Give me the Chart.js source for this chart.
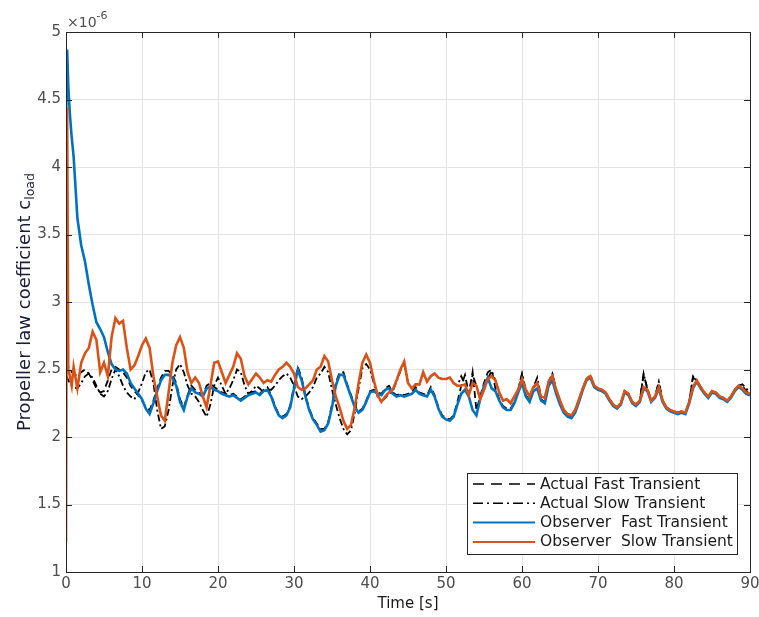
<!DOCTYPE html>
<html>
<head>
<meta charset="utf-8">
<script src="https://cdn.jsdelivr.net/npm/chart.js@4.4.1/dist/chart.umd.min.js"></script>
<style>
  html, body { margin: 0; padding: 0; background: #fff; }
  #wrap { width: 759px; height: 617px; }
</style>
</head>
<body>
<div id="wrap"><canvas id="chart" width="759" height="617"></canvas></div>
<script>
// Sample times [s] (denser at the start where the observers jump)
const time = [
  0, 0.15, 0.3, 0.5, 0.75, 1,
  1.5, 2, 2.5, 3, 3.5, 4, 4.5, 5, 5.5, 6, 6.5, 7, 7.5, 8, 8.5, 9, 9.5, 10,
  10.5, 11, 11.5, 12, 12.5, 13, 13.5, 14, 14.5, 15, 15.5, 16, 16.5, 17, 17.5, 18, 18.5, 19, 19.5, 20,
  20.5, 21, 21.5, 22, 22.5, 23, 23.5, 24, 24.5, 25, 25.5, 26, 26.5, 27, 27.5, 28, 28.5, 29, 29.5, 30,
  30.5, 31, 31.5, 32, 32.5, 33, 33.5, 34, 34.5, 35, 35.5, 36, 36.5, 37, 37.5, 38, 38.5, 39, 39.5, 40,
  40.5, 41, 41.5, 42, 42.5, 43, 43.5, 44, 44.5, 45, 45.5, 46, 46.5, 47, 47.5, 48, 48.5, 49, 49.5, 50,
  50.5, 51, 51.5, 52, 52.5, 53, 53.5, 54, 54.5, 55, 55.5, 56, 56.5, 57, 57.5, 58, 58.5, 59, 59.5, 60,
  60.5, 61, 61.5, 62, 62.5, 63, 63.5, 64, 64.5, 65, 65.5, 66, 66.5, 67, 67.5, 68, 68.5, 69, 69.5, 70,
  70.5, 71, 71.5, 72, 72.5, 73, 73.5, 74, 74.5, 75, 75.5, 76, 76.5, 77, 77.5, 78, 78.5, 79, 79.5, 80,
  80.5, 81, 81.5, 82, 82.5, 83, 83.5, 84, 84.5, 85, 85.5, 86, 86.5, 87, 87.5, 88, 88.5, 89, 89.5, 90
];

// Values in units of 1e-6
const actualFast = [
  2.48, 2.5, 2.52, 2.5, 2.48, 2.47,
  2.45, 2.48, 2.5, 2.47, 2.42, 2.36, 2.33, 2.34, 2.42, 2.5, 2.52, 2.5, 2.48, 2.44, 2.38, 2.34, 2.31, 2.27,
  2.22, 2.2, 2.27, 2.36, 2.44, 2.49, 2.49, 2.46, 2.4, 2.28, 2.22, 2.31, 2.38, 2.35, 2.33, 2.31, 2.38, 2.4, 2.37, 2.35,
  2.33, 2.32, 2.31, 2.32, 2.3, 2.28, 2.3, 2.32, 2.33, 2.34, 2.32, 2.35, 2.37, 2.31, 2.23, 2.17, 2.15, 2.17, 2.23, 2.38,
  2.52, 2.44, 2.31, 2.21, 2.14, 2.1, 2.06, 2.06, 2.11, 2.24, 2.4, 2.48, 2.48, 2.39, 2.31, 2.23, 2.19, 2.21, 2.27, 2.34,
  2.35, 2.33, 2.32, 2.36, 2.38, 2.33, 2.31, 2.32, 2.31, 2.32, 2.33, 2.37, 2.33, 2.32, 2.31, 2.37, 2.31, 2.22, 2.16, 2.14,
  2.13, 2.16, 2.26, 2.38, 2.46, 2.32, 2.48, 2.2, 2.3, 2.4, 2.48, 2.5, 2.36, 2.28, 2.23, 2.21, 2.21, 2.26, 2.35, 2.46,
  2.31, 2.27, 2.36, 2.4, 2.28, 2.26, 2.4, 2.46, 2.33, 2.25, 2.19, 2.16, 2.15, 2.19, 2.27, 2.36, 2.43, 2.45, 2.38, 2.36,
  2.35, 2.33, 2.28, 2.24, 2.22, 2.25, 2.34, 2.32, 2.26, 2.24, 2.27, 2.46, 2.36, 2.27, 2.3, 2.4, 2.27, 2.22, 2.2, 2.19,
  2.18, 2.19, 2.18, 2.26, 2.44, 2.42, 2.37, 2.33, 2.3, 2.34, 2.33, 2.3, 2.29, 2.27, 2.3, 2.35, 2.38, 2.38, 2.34, 2.32
];

const actualSlow = [
  2.45, 2.44, 2.42, 2.4, 2.38, 2.37,
  2.36, 2.4, 2.45, 2.47, 2.44, 2.38, 2.32, 2.3, 2.34, 2.43, 2.5, 2.45, 2.38, 2.33, 2.3, 2.28, 2.33, 2.4,
  2.48, 2.5, 2.4, 2.2, 2.06, 2.08, 2.2, 2.38, 2.5, 2.54, 2.48, 2.38, 2.32, 2.3, 2.26, 2.2, 2.15, 2.24, 2.38, 2.44,
  2.38, 2.32, 2.36, 2.42, 2.5, 2.48, 2.38, 2.32, 2.34, 2.38, 2.36, 2.33, 2.35, 2.35, 2.38, 2.42, 2.45, 2.47, 2.44, 2.38,
  2.3, 2.28, 2.3, 2.33, 2.37, 2.44, 2.47, 2.52, 2.48, 2.35, 2.24, 2.14, 2.06, 2.02, 2.05, 2.18, 2.36, 2.51, 2.54, 2.5,
  2.4, 2.3, 2.26, 2.29, 2.32, 2.34, 2.41, 2.49, 2.55, 2.4, 2.36, 2.39, 2.39, 2.47, 2.41, 2.45, 2.47, 2.44, 2.43, 2.43,
  2.44, 2.4, 2.38, 2.45, 2.39, 2.31, 2.46, 2.38, 2.28, 2.35, 2.43, 2.49, 2.42, 2.33, 2.27, 2.28, 2.25, 2.3, 2.35, 2.47,
  2.35, 2.3, 2.37, 2.44, 2.3, 2.29, 2.41, 2.47, 2.35, 2.27, 2.2, 2.17, 2.16, 2.2, 2.28, 2.36, 2.43, 2.46, 2.38, 2.36,
  2.35, 2.33, 2.28, 2.24, 2.22, 2.25, 2.34, 2.32, 2.26, 2.24, 2.27, 2.47, 2.35, 2.27, 2.3, 2.41, 2.27, 2.22, 2.2, 2.19,
  2.18, 2.19, 2.18, 2.26, 2.45, 2.42, 2.37, 2.33, 2.3, 2.34, 2.33, 2.3, 2.29, 2.27, 2.3, 2.35, 2.38, 2.39, 2.36, 2.33
];

const observerFast = [
  4.3, 4.87, 4.6, 4.4, 4.22, 4.08,
  3.62, 3.42, 3.3, 3.13, 2.98, 2.85, 2.8, 2.74, 2.63, 2.54, 2.5, 2.49, 2.5, 2.47, 2.4, 2.36, 2.32, 2.28,
  2.21, 2.17, 2.25, 2.34, 2.42, 2.46, 2.46, 2.44, 2.38, 2.26, 2.2, 2.3, 2.36, 2.33, 2.32, 2.3, 2.36, 2.37, 2.35, 2.34,
  2.32, 2.31, 2.3, 2.31, 2.29, 2.27, 2.29, 2.31, 2.32, 2.33, 2.31, 2.34, 2.35, 2.3, 2.22, 2.16, 2.14, 2.16, 2.22, 2.36,
  2.5, 2.42, 2.3, 2.2, 2.13, 2.09, 2.04, 2.05, 2.1, 2.22, 2.38, 2.46, 2.46, 2.38, 2.3, 2.22, 2.18, 2.2, 2.26, 2.33,
  2.34, 2.32, 2.31, 2.35, 2.36, 2.32, 2.3, 2.31, 2.3, 2.31, 2.32, 2.35, 2.32, 2.31, 2.3, 2.35, 2.3, 2.21, 2.15, 2.13,
  2.12, 2.15, 2.24, 2.32, 2.35, 2.3, 2.2, 2.16, 2.28, 2.38, 2.44, 2.36, 2.34, 2.27, 2.22, 2.2, 2.2, 2.25, 2.33, 2.4,
  2.3, 2.26, 2.34, 2.36, 2.27, 2.25, 2.38, 2.42, 2.32, 2.24, 2.18, 2.15, 2.14, 2.18, 2.26, 2.35, 2.42, 2.44, 2.37, 2.35,
  2.34, 2.32, 2.27, 2.23, 2.21, 2.24, 2.33, 2.31, 2.25, 2.23, 2.26, 2.36, 2.34, 2.26, 2.29, 2.36, 2.26, 2.21, 2.19, 2.18,
  2.17, 2.18, 2.17, 2.25, 2.36, 2.41, 2.36, 2.32, 2.29, 2.33, 2.32, 2.29, 2.28, 2.26, 2.29, 2.34, 2.37, 2.35, 2.32, 2.31
];

const observerSlow = [
  1.22, 4.44, 2.5, 2.45, 2.38, 2.52,
  2.36, 2.55, 2.62, 2.66, 2.78, 2.72, 2.48, 2.55, 2.45, 2.74, 2.88, 2.84, 2.86, 2.66, 2.5, 2.53, 2.6, 2.68,
  2.73, 2.66, 2.45, 2.3, 2.16, 2.12, 2.33, 2.55, 2.68, 2.74, 2.66, 2.48, 2.4, 2.44, 2.4, 2.3, 2.22, 2.38, 2.55, 2.56,
  2.48, 2.4, 2.46, 2.52, 2.62, 2.58, 2.45, 2.39, 2.43, 2.47, 2.44, 2.4, 2.42, 2.41, 2.46, 2.5, 2.52, 2.55, 2.52, 2.47,
  2.37, 2.35, 2.36, 2.39, 2.42, 2.5, 2.52, 2.6, 2.56, 2.42, 2.3, 2.22, 2.12, 2.06, 2.09, 2.22, 2.4, 2.55, 2.61, 2.55,
  2.42, 2.31, 2.26, 2.3, 2.33, 2.35, 2.42, 2.5, 2.56, 2.4, 2.36, 2.39, 2.39, 2.48, 2.41, 2.45, 2.47, 2.44, 2.43, 2.43,
  2.44, 2.4, 2.38, 2.38, 2.39, 2.31, 2.4, 2.38, 2.28, 2.35, 2.43, 2.45, 2.42, 2.33, 2.27, 2.28, 2.25, 2.3, 2.35, 2.43,
  2.35, 2.3, 2.37, 2.4, 2.3, 2.29, 2.41, 2.45, 2.35, 2.27, 2.2, 2.17, 2.16, 2.2, 2.28, 2.36, 2.43, 2.45, 2.38, 2.36,
  2.35, 2.33, 2.28, 2.24, 2.22, 2.25, 2.34, 2.32, 2.26, 2.24, 2.27, 2.37, 2.35, 2.27, 2.3, 2.37, 2.27, 2.22, 2.2, 2.19,
  2.18, 2.19, 2.18, 2.26, 2.37, 2.42, 2.37, 2.33, 2.3, 2.34, 2.33, 2.3, 2.29, 2.27, 2.3, 2.35, 2.38, 2.36, 2.33, 2.32
];

const seriesLabels = [
  "Actual Fast Transient",
  "Actual Slow Transient",
  "Observer  Fast Transient",
  "Observer  Slow Transient"
];
const xTicks = [0, 10, 20, 30, 40, 50, 60, 70, 80, 90];
const yTicks = [1, 1.5, 2, 2.5, 3, 3.5, 4, 4.5, 5];

const FONT = '"DejaVu Sans", "Liberation Sans", sans-serif';
const AXIS_COLOR = "#262626";
const TICK_COLOR = "#4d4d4d";

function toPoints(values) {
  return values.map((v, i) => ({ x: time[i], y: v }));
}

// MATLAB-like frame: box, inward tick marks, exponent, y label with subscript, legend
const matlabFrame = {
  id: "matlabFrame",
  afterDatasetsDraw(chart) {
    const { ctx, chartArea: a, scales } = chart;
    const tl = 6;
    ctx.save();
    ctx.strokeStyle = AXIS_COLOR;
    ctx.lineWidth = 1;
    ctx.setLineDash([]);
    ctx.beginPath();
    xTicks.forEach(v => {
      const x = Math.round(scales.x.getPixelForValue(v)) + 0.5;
      ctx.moveTo(x, a.bottom); ctx.lineTo(x, a.bottom - tl);
      ctx.moveTo(x, a.top); ctx.lineTo(x, a.top + tl);
    });
    yTicks.forEach(v => {
      const y = Math.round(scales.y.getPixelForValue(v)) + 0.5;
      ctx.moveTo(a.left, y); ctx.lineTo(a.left + tl, y);
      ctx.moveTo(a.right, y); ctx.lineTo(a.right - tl, y);
    });
    ctx.stroke();
    ctx.strokeRect(Math.round(a.left) + 0.5, Math.round(a.top) + 0.5,
                   Math.round(a.right - a.left), Math.round(a.bottom - a.top));
    ctx.restore();
  },
  afterDraw(chart) {
    const { ctx, chartArea: a } = chart;
    ctx.save();

    // exponent label
    ctx.fillStyle = TICK_COLOR;
    ctx.textBaseline = "alphabetic";
    ctx.textAlign = "left";
    ctx.font = `14px ${FONT}`;
    const base = "\u00d710";
    ctx.fillText(base, a.left + 1, 27);
    const wb = ctx.measureText(base).width;
    ctx.font = `11px ${FONT}`;
    ctx.fillText("-6", a.left + 1 + wb, 19);

    // y axis title with subscript
    ctx.fillStyle = "#1c1c3a";
    const main = "Propeller law coefficient c";
    const sub = "load";
    ctx.font = `18px ${FONT}`;
    const wMain = ctx.measureText(main).width;
    ctx.font = `12.5px ${FONT}`;
    const wSub = ctx.measureText(sub).width;
    ctx.translate(30, (a.top + a.bottom) / 2);
    ctx.rotate(-Math.PI / 2);
    const start = -(wMain + wSub) / 2;
    ctx.font = `18px ${FONT}`;
    ctx.fillText(main, start, 0);
    ctx.font = `12.5px ${FONT}`;
    ctx.fillText(sub, start + wMain, 4);
    ctx.setTransform(1, 0, 0, 1, 0, 0);

    // legend
    const lg = { left: 467, top: 473, right: 737, bottom: 554 };
    ctx.fillStyle = "#fff";
    ctx.fillRect(lg.left, lg.top, lg.right - lg.left, lg.bottom - lg.top);
    ctx.strokeStyle = AXIS_COLOR;
    ctx.lineWidth = 1;
    ctx.strokeRect(lg.left + 0.5, lg.top + 0.5, lg.right - lg.left, lg.bottom - lg.top);
    chart.data.datasets.forEach((ds, i) => {
      const y = lg.top + 11 + i * 19.3;
      ctx.strokeStyle = ds.borderColor;
      ctx.lineWidth = ds.legendWidth;
      ctx.setLineDash(ds.legendDash);
      ctx.beginPath();
      ctx.moveTo(473, y);
      ctx.lineTo(535, y);
      ctx.stroke();
      ctx.setLineDash([]);
      ctx.fillStyle = "#1a1a1a";
      ctx.font = `15.5px ${FONT}`;
      ctx.textBaseline = "middle";
      ctx.fillText(ds.label, 540, y + 0.5);
    });
    ctx.restore();
  }
};

new Chart(document.getElementById("chart"), {
  type: "line",
  data: {
    datasets: [
      {
        label: seriesLabels[0],
        data: toPoints(actualFast),
        borderColor: "#000000",
        borderWidth: 1.8,
        borderDash: [7, 4],
        legendDash: [11, 7],
        legendWidth: 1.5,
        order: 4,
      },
      {
        label: seriesLabels[1],
        data: toPoints(actualSlow),
        borderColor: "#000000",
        borderWidth: 1.8,
        borderDash: [7, 3, 2, 3],
        legendDash: [10, 4, 2, 4],
        legendWidth: 1.5,
        order: 3,
      },
      {
        label: seriesLabels[2],
        data: toPoints(observerFast),
        borderColor: "#0072BD",
        borderWidth: 2.6,
        legendDash: [],
        legendWidth: 2,
        order: 2,
      },
      {
        label: seriesLabels[3],
        data: toPoints(observerSlow),
        borderColor: "#D95319",
        borderWidth: 2.6,
        legendDash: [],
        legendWidth: 2,
        order: 1,
      },
    ],
  },
  options: {
    responsive: false,
    animation: false,
    parsing: false,
    layout: { padding: { left: 0, right: 9, top: 32, bottom: 0 } },
    elements: {
      point: { radius: 0 },
      line: { tension: 0, fill: false },
    },
    plugins: {
      legend: { display: false },
      tooltip: { enabled: false },
    },
    scales: {
      x: {
        type: "linear",
        min: 0,
        max: 90,
        afterBuildTicks: (s) => { s.ticks = xTicks.map(v => ({ value: v })); },
        afterFit: (s) => {
          s.height = 45;
          s.paddingLeft = 0;
          s.paddingRight = 0;
        },
        ticks: {
          color: TICK_COLOR,
          font: { family: FONT, size: 15 },
          padding: 3,
          maxRotation: 0,
        },
        grid: { color: "#e3e3e3", drawTicks: false },
        border: { display: false },
        title: {
          display: true,
          text: "Time [s]",
          color: "#1a1a1a",
          font: { family: FONT, size: 15 },
          padding: { top: 0, bottom: 4 },
        },
      },
      y: {
        type: "linear",
        min: 1,
        max: 5,
        afterBuildTicks: (s) => { s.ticks = yTicks.map(v => ({ value: v })); },
        afterFit: (s) => {
          s.width = 66;
          s.paddingTop = 0;
          s.paddingBottom = 0;
        },
        ticks: {
          color: TICK_COLOR,
          font: { family: FONT, size: 15 },
          padding: 5,
          callback: (v) => String(v),
        },
        grid: { color: "#e3e3e3", drawTicks: false },
        border: { display: false },
      },
    },
  },
  plugins: [matlabFrame],
});
</script>
</body>
</html>
